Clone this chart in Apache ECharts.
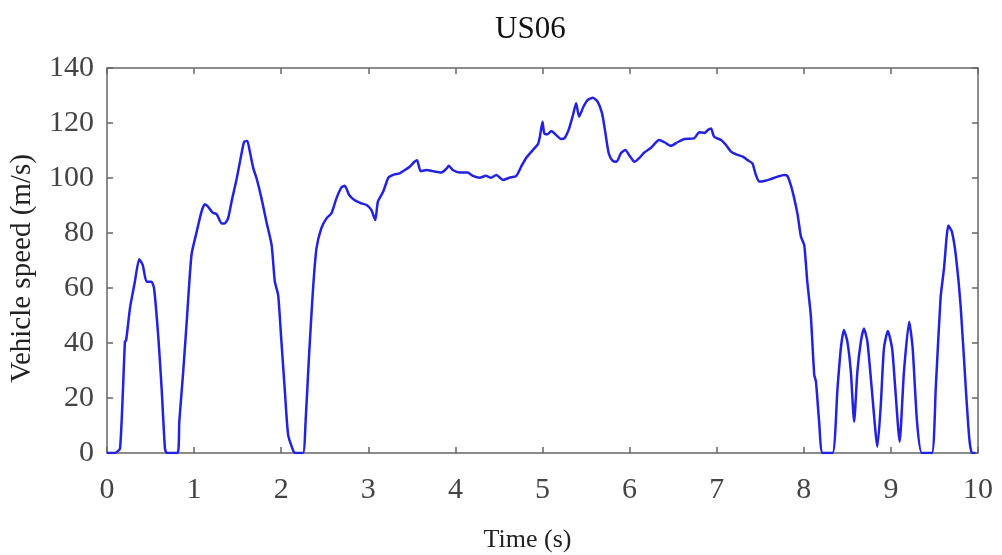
<!DOCTYPE html>
<html>
<head>
<meta charset="utf-8">
<script src="https://cdn.jsdelivr.net/npm/echarts@6/dist/echarts.min.js"></script>
<style>html,body{margin:0;padding:0;background:#fff;}#c{width:1002px;height:555px;}</style>
</head>
<body>
<div id="c"></div>
<script>
const titleText = "US06";
const xName = "Time (s)";
const yName = "Vehicle speed (m/s)";
const xTicks = [0,1,2,3,4,5,6,7,8,9,10];
const yTicks = [0,20,40,60,80,100,120,140];
const times = [0,0.09,0.15,0.206,0.22,0.264,0.32,0.37,0.41,0.455,0.51,0.54,0.59,0.627,0.665,0.685,0.81,0.83,0.875,0.92,0.97,1.03,1.085,1.124,1.16,1.21,1.26,1.315,1.35,1.39,1.43,1.49,1.545,1.575,1.61,1.64,1.68,1.717,1.774,1.83,1.89,1.927,1.965,2.0,2.04,2.08,2.136,2.156,2.25,2.28,2.32,2.366,2.405,2.46,2.52,2.577,2.634,2.69,2.73,2.78,2.84,2.92,2.98,3.035,3.08,3.11,3.17,3.226,3.245,3.30,3.36,3.42,3.475,3.53,3.56,3.60,3.67,3.74,3.84,3.90,3.925,3.97,4.05,4.14,4.20,4.28,4.35,4.41,4.47,4.545,4.62,4.70,4.755,4.81,4.89,4.946,4.97,5.00,5.02,5.06,5.10,5.157,5.21,5.25,5.30,5.35,5.386,5.42,5.47,5.52,5.577,5.634,5.684,5.72,5.76,5.806,5.85,5.90,5.95,6.006,6.055,6.11,6.17,6.246,6.34,6.40,6.475,6.55,6.63,6.74,6.80,6.86,6.90,6.935,6.97,7.05,7.107,7.164,7.24,7.30,7.355,7.41,7.45,7.49,7.546,7.62,7.70,7.775,7.81,7.85,7.89,7.93,7.967,8.005,8.04,8.08,8.12,8.14,8.176,8.215,8.33,8.387,8.425,8.46,8.50,8.54,8.578,8.615,8.655,8.69,8.73,8.78,8.845,8.884,8.92,8.965,9.014,9.05,9.10,9.15,9.21,9.25,9.30,9.354,9.47,9.515,9.57,9.61,9.66,9.70,9.745,9.80,9.86,9.90,9.93,9.97];
const speeds = [0,0,1.7,40.5,41,52.7,62.3,70.5,68.4,62.3,62.3,60,41.8,23.6,1.8,0,0,11.4,29.6,50,72,80.5,87.8,90.5,89.6,87.5,86.8,83.5,83.5,85.3,91.4,99.9,109,113.2,113.5,109.6,103.5,99.9,92.6,84.1,75.6,62.3,57.5,41.7,23.5,6.5,1,0,0,11.4,35.6,59.9,74.4,81.7,85.3,87.2,92.6,96.5,97.2,93.8,92,90.8,90.2,88.4,84.7,91.4,95,99.9,100.5,101.3,101.7,102.9,104.1,105.9,106.5,102.5,102.9,102.5,102,103.5,104.5,102.9,102,102,100.8,100.1,100.8,100.1,101.1,99.3,100.1,100.8,104.1,107.2,110.2,112.2,115,120.5,116.3,115.9,117.1,115.6,114.2,114.4,117.5,122.9,127.2,122.3,125.9,128.4,129.2,127.7,123.5,116.8,109,106.2,105.9,109,110.2,107.8,105.9,107.2,109.3,111,113.8,113,111.7,113,114.2,114.4,116.6,116.4,117.5,118,115,113.8,112,109.6,108.4,107.8,106.5,105.3,101.1,98.7,98.9,99.6,100.5,101.1,100.8,97.5,92.6,86.5,78.7,75.6,62.3,50.2,28.4,25.9,11.4,0,0,23.5,38,44.7,40.5,29.6,11.4,29.6,40.5,45.3,40.5,23.5,2.3,17.5,38,44.4,38,23.5,4.1,29.6,47.7,38,11.4,0,0,23.5,56.3,67.2,82.7,80.5,72,53.8,23.5,5.3,0,0];

const chart = echarts.init(document.getElementById('c'), null, {renderer: 'canvas'});
const font = '"Liberation Serif", "DejaVu Serif", serif';
const lineCol = '#666';
const baseAxis = {
  min: 0,
  axisLine: {show: true, onZero: false, lineStyle: {color: lineCol, width: 1.5}},
  axisTick: {show: true, inside: true, length: 6, lineStyle: {color: lineCol, width: 1.5}},
  splitLine: {show: false}
};
chart.setOption({
  animation: false,
  backgroundColor: '#fff',
  title: {
    text: titleText, left: 490, top: 9,
    textStyle: {fontFamily: font, fontWeight: 'normal', fontSize: 31, color: '#111'}
  },
  grid: {left: 107, right: 24, top: 68, bottom: 102, containLabel: false, outerBoundsMode: 'none'},
  xAxis: [
    Object.assign({}, baseAxis, {
      type: 'value', position: 'bottom', max: 10, interval: 1,
      name: xName, nameLocation: 'middle', nameGap: 74,
      nameTextStyle: {fontFamily: font, fontSize: 26, color: '#222', padding: [0, 30, 0, 0]},
      axisLabel: {fontFamily: font, fontSize: 30, color: '#444', margin: 22,
        formatter: v => xTicks.includes(v) ? String(v) : ''}
    }),
    Object.assign({}, baseAxis, {
      type: 'value', position: 'top', max: 10, interval: 1, axisLabel: {show: false}
    })
  ],
  yAxis: [
    Object.assign({}, baseAxis, {
      type: 'value', position: 'left', max: 140, interval: 20,
      name: yName, nameLocation: 'middle', nameGap: 70, nameRotate: 90,
      nameTextStyle: {fontFamily: font, fontSize: 29, color: '#222', padding: [0, 16, 0, 0]},
      axisLabel: {fontFamily: font, fontSize: 30, color: '#444', margin: 13,
        formatter: v => yTicks.includes(v) ? String(v) : ''}
    }),
    Object.assign({}, baseAxis, {
      type: 'value', position: 'right', max: 140, interval: 20, axisLabel: {show: false}
    })
  ],
  series: [{
    type: 'line',
    xAxisIndex: 0, yAxisIndex: 0,
    data: times.map((t, i) => [t, speeds[i]]),
    showSymbol: false,
    smooth: 0.2,
    lineStyle: {color: '#2222e0', width: 2.5},
    itemStyle: {color: '#2222e0'}
  }]
});
</script>
</body>
</html>
